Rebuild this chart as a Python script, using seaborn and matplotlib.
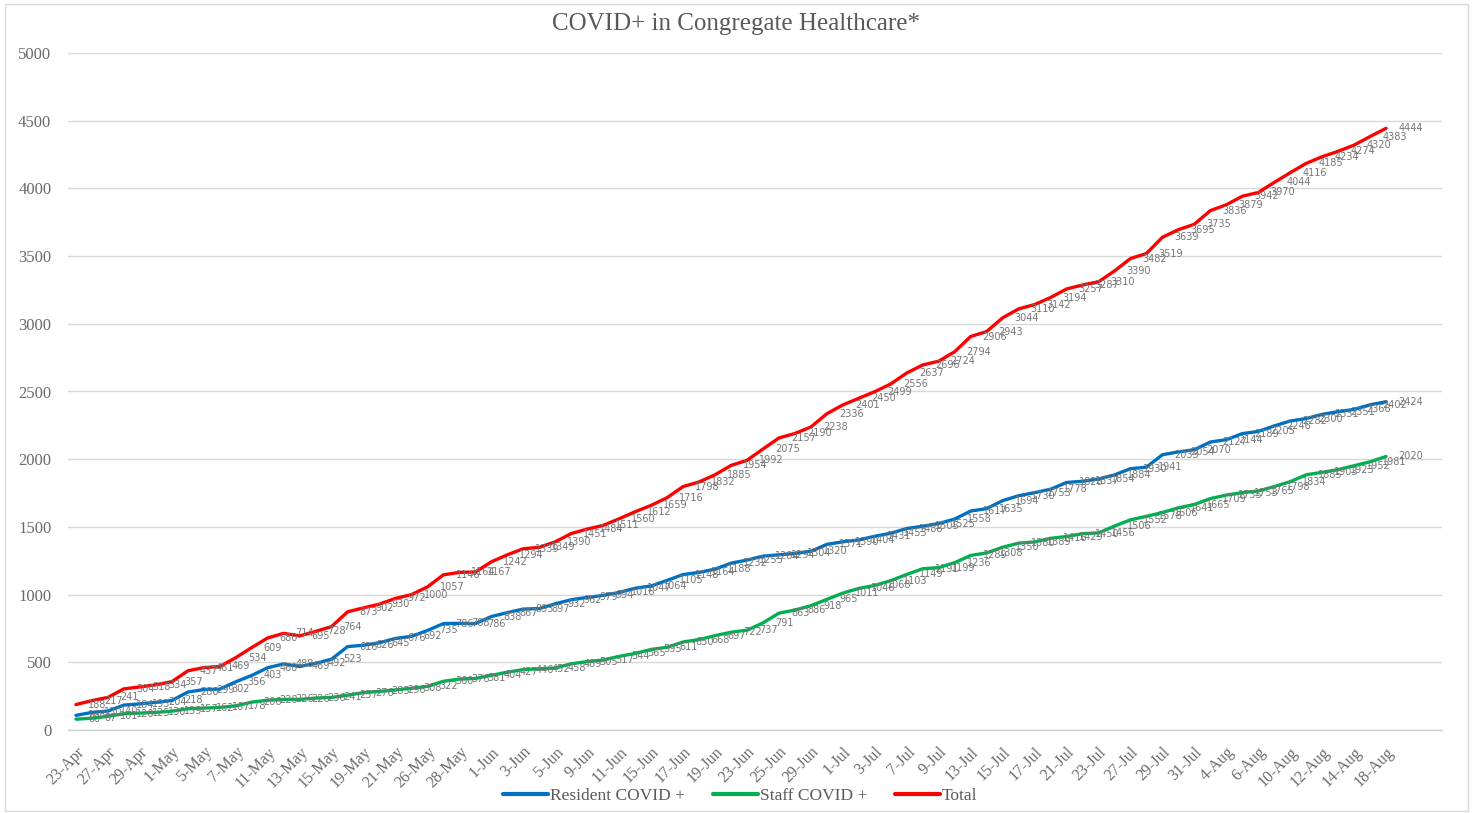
import matplotlib
matplotlib.use("Agg")
import matplotlib.pyplot as plt
import seaborn as sns
import pandas as pd
from matplotlib.lines import Line2D
from matplotlib.patches import Rectangle

dates = ["23-Apr", "24-Apr", "27-Apr", "28-Apr", "29-Apr", "30-Apr",
         "1-May", "4-May", "5-May", "6-May", "7-May", "8-May", "11-May", "12-May", "13-May",
         "14-May", "15-May", "18-May", "19-May", "20-May", "21-May", "22-May", "26-May",
         "27-May", "28-May", "29-May",
         "1-Jun", "2-Jun", "3-Jun", "4-Jun", "5-Jun", "8-Jun", "9-Jun", "10-Jun", "11-Jun",
         "12-Jun", "15-Jun", "16-Jun", "17-Jun", "18-Jun", "19-Jun", "22-Jun", "23-Jun",
         "24-Jun", "25-Jun", "26-Jun", "29-Jun", "30-Jun",
         "1-Jul", "2-Jul", "3-Jul", "6-Jul", "7-Jul", "8-Jul", "9-Jul", "10-Jul", "13-Jul",
         "14-Jul", "15-Jul", "16-Jul", "17-Jul", "20-Jul", "21-Jul", "22-Jul", "23-Jul",
         "24-Jul", "27-Jul", "28-Jul", "29-Jul", "30-Jul", "31-Jul",
         "3-Aug", "4-Aug", "5-Aug", "6-Aug", "7-Aug", "10-Aug", "11-Aug", "12-Aug",
         "13-Aug", "14-Aug", "17-Aug", "18-Aug"]
extra_blank_categories = ["", "", ""]

resident = [108, 130, 140, 184, 193, 204, 218, 280, 299, 302, 356, 403, 460, 488, 469,
            492, 523, 616, 626, 645, 676, 692, 735, 786, 788, 786, 838, 867, 893, 897,
            932, 962, 979, 994, 1016, 1047, 1064, 1105, 1148, 1164, 1188, 1232, 1255,
            1284, 1294, 1304, 1320, 1371, 1390, 1404, 1431, 1453, 1488, 1505, 1525, 1558,
            1617, 1635, 1694, 1730, 1753, 1778, 1828, 1837, 1854, 1884, 1930, 1941, 2033,
            2054, 2070, 2127, 2144, 2189, 2205, 2246, 2282, 2300, 2331, 2351, 2368, 2402,
            2424]
staff = [80, 87, 101, 120, 125, 130, 139, 157, 162, 167, 178, 206, 220, 226, 226,
         236, 241, 257, 276, 285, 296, 308, 322, 360, 376, 381, 404, 427, 446, 452,
         458, 489, 505, 517, 544, 565, 595, 611, 650, 668, 697, 722, 737,
         791, 863, 886, 918, 965, 1011, 1046, 1068, 1103, 1149, 1191, 1199, 1236,
         1289, 1308, 1350, 1380, 1389, 1416, 1429, 1450, 1456, 1506, 1552, 1578, 1606,
         1641, 1665, 1709, 1735, 1753, 1765, 1798, 1834, 1885, 1903, 1923, 1952, 1981,
         2020]
total = [188, 217, 241, 304, 318, 334, 357, 437, 461, 469, 534, 609, 680, 714, 695,
         728, 764, 873, 902, 930, 972, 1000, 1057, 1146, 1164, 1167, 1242, 1294, 1339, 1349,
         1390, 1451, 1484, 1511, 1560, 1612, 1659, 1716, 1798, 1832, 1885, 1954, 1992,
         2075, 2157, 2190, 2238, 2336, 2401, 2450, 2499, 2556, 2637, 2696, 2724, 2794,
         2906, 2943, 3044, 3110, 3142, 3194, 3257, 3287, 3310, 3390, 3482, 3519, 3639,
         3695, 3735, 3836, 3879, 3942, 3970, 4044, 4116, 4185, 4234, 4274, 4320, 4383,
         4444]

series_names = ["Resident COVID +", "Staff COVID +", "Total"]
series_colors = ["#0070C0", "#00B050", "#FF0000"]
title_text = "COVID+ in Congregate Healthcare*"

categories = dates + extra_blank_categories
n_cat = len(categories)

rows = []
for name, vals in zip(series_names, [resident, staff, total]):
    for i, v in enumerate(vals):
        rows.append({"idx": i, "date": dates[i], "value": v, "series": name})
df = pd.DataFrame(rows)

sns.set_theme(style="white")
plt.rcParams["font.family"] = ["Liberation Serif", "DejaVu Serif"]

W, H = 1475, 813
fig = plt.figure(figsize=(W / 100, H / 100), dpi=100)
left, right, top, bottom = 68, 1442, 53, 730
ax = fig.add_axes([left / W, 1 - bottom / H, (right - left) / W, (bottom - top) / H])

palette = dict(zip(series_names, series_colors))
sns.lineplot(data=df, x="idx", y="value", hue="series", hue_order=series_names,
             palette=palette, linewidth=2.4, ax=ax, legend=False, sort=False)

txt_gray = "#595959"
tick_gray = "#6A6A6A"
label_gray = "#757575"

# data labels to the right of each point
for name, vals in zip(series_names, [resident, staff, total]):
    for i, v in enumerate(vals):
        ax.annotate(str(v), (i, v), xytext=(12, 0), textcoords="offset pixels",
                    ha="left", va="center", fontsize=7, color=label_gray,
                    family=["DejaVu Sans"])

ax.set_xlim(-0.5, n_cat - 0.5)
ax.set_ylim(0, 5000)
ax.set_yticks(range(0, 5001, 500))
ax.yaxis.grid(True, color="#D9D9D9", linewidth=1.0)
ax.xaxis.grid(False)
for s in ["top", "right", "left"]:
    ax.spines[s].set_visible(False)
ax.spines["bottom"].set_color("#D0D0D0")
ax.spines["bottom"].set_linewidth(1.0)

label_pos = list(range(0, len(dates), 2))
ax.set_xticks(label_pos)
ax.set_xticklabels([categories[i] for i in label_pos], rotation=45, ha="right",
                   rotation_mode="anchor", fontsize=11.5, color=tick_gray)
ax.tick_params(axis="x", which="major", length=0, pad=10)
ax.set_xticks([i - 0.5 for i in range(n_cat + 1)], minor=True)
ax.tick_params(axis="x", which="minor", length=5, color="#D0D0D0", width=1.0)
ax.tick_params(axis="y", length=0, pad=12, labelsize=12, labelcolor=tick_gray)
ax.set_xlabel("")
ax.set_ylabel("")

fig.text(736 / W, 1 - 24 / H, title_text, ha="center", va="center",
         fontsize=18, color=txt_gray)

handles = [Line2D([0], [0], color=c, linewidth=3) for c in series_colors]
leg = fig.legend(handles, series_names, loc="center", bbox_to_anchor=(740 / W, 1 - 796 / H),
                 ncol=3, frameon=False, fontsize=12.5, handlelength=2.6,
                 handletextpad=0.1, columnspacing=1.6)
for t in leg.get_texts():
    t.set_color(txt_gray)

fig.patches.append(Rectangle((5 / W, 1 - 811 / H), (1468 - 5) / W, (811 - 4) / H,
                             transform=fig.transFigure, fill=False,
                             edgecolor="#D9D9D9", linewidth=1.0))

fig.savefig("out.png", dpi=100, facecolor="white")
